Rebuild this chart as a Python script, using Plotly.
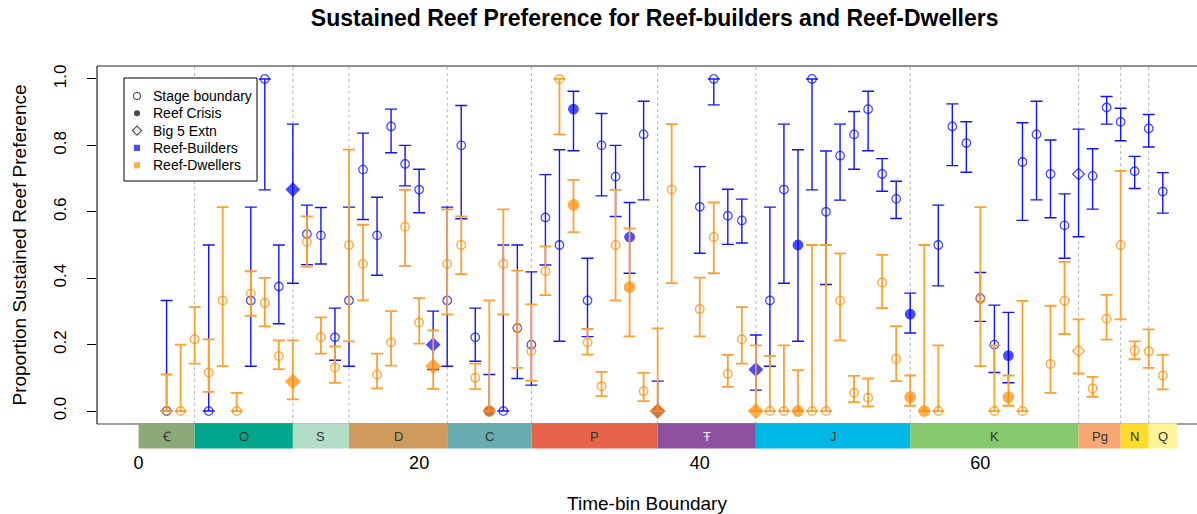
import plotly.graph_objects as go

# Time-bin boundaries with reef-builder estimates (proportion, lower CI, upper CI)
builder_bins = [2, 5, 8, 9, 10, 11, 12, 13, 14, 15, 16, 17, 18, 19, 20, 21, 22, 23, 24, 25,
                26, 27, 28, 29, 30, 31, 32, 33, 34, 35, 36, 37, 40, 41, 42, 43, 44, 45, 46, 47,
                48, 49, 50, 51, 52, 53, 54, 55, 57, 58, 59, 60, 61, 62, 63, 64, 65, 66, 67, 68,
                69, 70, 71, 72, 73]
builder_prop = [0.0, 0.0, 0.333, 1.0, 0.375, 0.667, 0.533, 0.529, 0.222, 0.333, 0.727, 0.529,
                0.857, 0.744, 0.667, 0.2, 0.333, 0.8, 0.222, 0.0, 0.0, 0.25, 0.2, 0.583, 0.5,
                0.909, 0.333, 0.8, 0.706, 0.524, 0.833, 0.0, 0.615, 1.0, 0.588, 0.574, 0.125,
                0.333, 0.667, 0.5, 1.0, 0.6, 0.769, 0.833, 0.909, 0.714, 0.639, 0.292, 0.5,
                0.857, 0.807, 0.34, 0.2, 0.167, 0.75, 0.833, 0.714, 0.559, 0.714, 0.708, 0.914,
                0.871, 0.722, 0.851, 0.661]
builder_lo = [0.0, 0.0, 0.135, 0.666, 0.263, 0.385, 0.441, 0.443, 0.153, 0.135, 0.577, 0.409,
              0.778, 0.678, 0.597, 0.125, 0.135, 0.579, 0.15, 0.0, 0.0, 0.098, 0.078, 0.44, 0.21,
              0.784, 0.224, 0.648, 0.586, 0.415, 0.636, 0.0, 0.475, 0.922, 0.502, 0.506, 0.063,
              0.135, 0.385, 0.21, 0.666, 0.381, 0.635, 0.728, 0.784, 0.662, 0.58, 0.235, 0.377,
              0.739, 0.719, 0.27, 0.116, 0.085, 0.574, 0.636, 0.582, 0.46, 0.525, 0.608, 0.864,
              0.814, 0.67, 0.795, 0.596]
builder_hi = [0.333, 0.5, 0.614, 1.0, 0.5, 0.864, 0.62, 0.613, 0.31, 0.614, 0.837, 0.644,
              0.909, 0.8, 0.728, 0.301, 0.614, 0.92, 0.31, 0.11, 0.5, 0.5, 0.419, 0.712, 0.787,
              0.963, 0.46, 0.896, 0.8, 0.628, 0.933, 0.09, 0.736, 1.0, 0.668, 0.638, 0.229,
              0.614, 0.864, 0.787, 1.0, 0.783, 0.864, 0.902, 0.963, 0.76, 0.692, 0.355, 0.62,
              0.925, 0.871, 0.417, 0.319, 0.297, 0.868, 0.933, 0.816, 0.654, 0.849, 0.79, 0.947,
              0.912, 0.767, 0.893, 0.718]

# Time-bin boundaries with reef-dweller estimates
dweller_bins = [2, 3, 4, 5, 6, 7, 8, 9, 10, 11, 12, 13, 14, 15, 16, 17, 18, 19, 20, 21, 22,
                23, 24, 25, 26, 27, 28, 29, 30, 31, 32, 33, 34, 35, 36, 37, 38, 40, 41, 42, 43,
                44, 45, 46, 47, 48, 49, 50, 51, 52, 53, 54, 55, 56, 57, 60, 61, 62, 63, 65, 66,
                67, 68, 69, 70, 71, 72, 73]
dweller_prop = [0.0, 0.0, 0.216, 0.116, 0.333, 0.0, 0.353, 0.325, 0.166, 0.089, 0.51, 0.223,
                0.131, 0.5, 0.443, 0.11, 0.207, 0.555, 0.267, 0.135, 0.443, 0.5, 0.1, 0.0,
                0.443, 0.249, 0.18, 0.421, 1.0, 0.621, 0.207, 0.075, 0.5, 0.373, 0.06, 0.0,
                0.667, 0.307, 0.524, 0.112, 0.216, 0.0, 0.0, 0.0, 0.0, 0.0, 0.0, 0.333, 0.055,
                0.04, 0.387, 0.157, 0.042, 0.0, 0.0, 0.337, 0.0, 0.042, 0.0, 0.142, 0.332,
                0.181, 0.068, 0.278, 0.5, 0.182, 0.18, 0.107]
dweller_lo = [0.0, 0.0, 0.143, 0.058, 0.135, 0.0, 0.287, 0.255, 0.126, 0.035, 0.435, 0.173,
              0.085, 0.21, 0.333, 0.068, 0.137, 0.437, 0.203, 0.067, 0.291, 0.412, 0.066, 0.0,
              0.291, 0.13, 0.091, 0.349, 0.833, 0.539, 0.17, 0.045, 0.333, 0.225, 0.03, 0.0,
              0.385, 0.225, 0.415, 0.073, 0.143, 0.0, 0.0, 0.0, 0.0, 0.0, 0.0, 0.213, 0.027,
              0.014, 0.31, 0.09, 0.016, 0.0, 0.0, 0.135, 0.0, 0.016, 0.0, 0.055, 0.232,
              0.113, 0.043, 0.215, 0.276, 0.156, 0.13, 0.065]
dweller_hi = [0.11, 0.2, 0.313, 0.216, 0.614, 0.055, 0.421, 0.401, 0.213, 0.213, 0.586, 0.282,
              0.195, 0.787, 0.561, 0.173, 0.301, 0.666, 0.34, 0.243, 0.607, 0.586, 0.143, 0.333,
              0.607, 0.423, 0.321, 0.496, 1.0, 0.696, 0.247, 0.118, 0.666, 0.55, 0.115, 0.249,
              0.864, 0.402, 0.628, 0.169, 0.313, 0.198, 0.166, 0.198, 0.123, 0.5, 0.5, 0.475,
              0.106, 0.098, 0.47, 0.256, 0.107, 0.5, 0.198, 0.614, 0.198, 0.107, 0.332, 0.317,
              0.449, 0.276, 0.103, 0.35, 0.723, 0.21, 0.246, 0.169]

# Boundaries flagged as reef crises and as Big Five mass extinctions
crisis_bins = [11, 21, 25, 31, 35, 37, 44, 47, 55, 56, 62]
big5_bins = [11, 21, 37, 44, 67]

# Geological periods along the time-bin axis
period_labels = ["Ꞓ", "O", "S", "D", "C", "P", "Ŧ", "J", "K", "Pg", "N", "Q"]
period_start = [0, 4, 11, 15, 22, 28, 37, 44, 55, 67, 70, 72]
period_end = [4, 11, 15, 22, 28, 37, 44, 55, 67, 70, 72, 74]
period_colors = ["#8CAA78", "#00A78C", "#B2DEC8", "#CF9B5C", "#66ACB0", "#E6654A",
                 "#8D51A0", "#00B8E5", "#85C86E", "#F8A772", "#FFDB2E", "#FFF598"]
period_text = ["#333333"] * 6 + ["#EDE3F2"] + ["#333333"] * 5

# Key entries
key_labels = ["Stage boundary", "Reef Crisis", "Big 5 Extn", "Reef-Builders", "Reef-Dwellers"]
key_symbols = ["circle-open", "circle", "diamond-open", "square", "square"]
key_colors = ["black", "black", "black", "blue", "darkorange"]
key_sizes = [7, 5, 7, 5, 5]

BLUE = "rgb(0,0,255)"
BLUE_BAR = "rgb(20,20,255)"
ORANGE = "rgb(255,140,0)"
ORANGE_BAR = "rgb(255,160,50)"
FONT = "Liberation Sans, Arial, Helvetica, sans-serif"

# Pixel frame of the plotting region, used to place the key in paper units
PLOT_L, PLOT_T, PLOT_W, PLOT_H = 97, 66, 1100, 358


def px_to_paper(px, py):
    return (px - PLOT_L) / PLOT_W, (PLOT_T + PLOT_H - py) / PLOT_H


def marker_style(bins, grow):
    symbols, sizes = [], []
    for b in bins:
        crisis = b in crisis_bins
        big5 = b in big5_bins
        if big5 and crisis:
            symbols.append("diamond"); sizes.append(10 + grow)
        elif big5:
            symbols.append("diamond-open"); sizes.append(9)
        elif crisis:
            symbols.append("circle"); sizes.append(9.5 + grow)
        else:
            symbols.append("circle-open"); sizes.append(8.5)
    return symbols, sizes


def add_series(fig, bins, prop, lo, hi, color, bar_color, line_w, bar_w, grow):
    symbols, sizes = marker_style(bins, grow)
    fig.add_trace(go.Scatter(
        x=bins, y=prop, mode="markers", showlegend=False, hoverinfo="x+y",
        marker=dict(symbol=symbols, size=sizes, color=color,
                    line=dict(width=line_w, color=color)),
        error_y=dict(type="data", symmetric=False,
                     array=[h - p for h, p in zip(hi, prop)],
                     arrayminus=[p - l for p, l in zip(prop, lo)],
                     color=bar_color, thickness=bar_w, width=6),
    ))


fig = go.Figure()
add_series(fig, builder_bins, builder_prop, builder_lo, builder_hi,
           BLUE, BLUE_BAR, 1.3, 1.4, 0)
add_series(fig, dweller_bins, dweller_prop, dweller_lo, dweller_hi,
           ORANGE, ORANGE_BAR, 1.5, 1.8, 0.8)

shapes = []
annotations = []

# Period boundaries as dotted guides
for b in period_start[1:]:
    shapes.append(dict(type="line", xref="x", yref="paper", x0=b, x1=b, y0=0, y1=1,
                       line=dict(color="#b5b5b5", width=1, dash="dot"), layer="below"))

# Key box (drawn over the guides), with symbols on an overlay axis spanning the plot
box_x0, box_y0 = px_to_paper(124, 78)
box_x1, box_y1 = px_to_paper(257, 181)
shapes.append(dict(type="rect", xref="paper", yref="paper", x0=box_x0, x1=box_x1,
                   y0=box_y1, y1=box_y0, fillcolor="white",
                   line=dict(color="black", width=1), layer="below"))
key_x, _ = px_to_paper(137, 0)
text_x, _ = px_to_paper(151, 0)
key_y = [px_to_paper(0, 96 + 17.3 * i)[1] for i in range(len(key_labels))]
fig.add_trace(go.Scatter(
    x=[key_x] * len(key_labels), y=key_y, xaxis="x2", yaxis="y2", mode="markers",
    showlegend=False, hoverinfo="skip",
    marker=dict(symbol=key_symbols, color=key_colors, size=key_sizes,
                line=dict(width=1.1, color=key_colors)),
))
for lab, yy in zip(key_labels, key_y):
    annotations.append(dict(x=text_x, y=yy, xref="paper", yref="paper", text=lab,
                            showarrow=False, xanchor="left", yanchor="middle",
                            font=dict(size=14, family=FONT, color="black")))

# Plot frame (top, bottom, left)
shapes.append(dict(type="line", xref="paper", yref="paper", x0=0, x1=1, y0=1, y1=1,
                   line=dict(color="#222222", width=1.2), layer="above"))
shapes.append(dict(type="line", xref="paper", yref="paper", x0=0, x1=1, y0=0, y1=0,
                   line=dict(color="#444444", width=1.2), layer="above"))
shapes.append(dict(type="line", xref="paper", yref="paper", x0=0, x1=0, y0=0, y1=1,
                   line=dict(color="#222222", width=1.2), layer="above"))
# Period strip under the plot
for lab, s, e, c, tc in zip(period_labels, period_start, period_end, period_colors, period_text):
    shapes.append(dict(type="rect", xref="x", yref="paper", x0=s, x1=e, y0=0.002, y1=-0.0685,
                       fillcolor=c, line=dict(width=0), layer="above"))
    annotations.append(dict(x=(s + e) / 2, y=-0.034, xref="x", yref="paper", text=lab,
                            showarrow=False, font=dict(size=13, color=tc, family=FONT),
                            xanchor="center", yanchor="middle"))

fig.update_layout(
    width=1197, height=514,
    margin=dict(l=PLOT_L, r=0, t=PLOT_T, b=514 - PLOT_T - PLOT_H),
    paper_bgcolor="white", plot_bgcolor="white",
    font=dict(family=FONT, color="black", size=16),
    title=dict(text="<b>Sustained Reef Preference for Reef-builders and Reef-Dwellers</b>",
               x=0.507, xref="paper", xanchor="center", y=0.965, yanchor="middle",
               font=dict(size=23, family=FONT, color="black")),
    showlegend=False,
    hovermode="closest",
    shapes=shapes,
    annotations=annotations,
    xaxis2=dict(overlaying="x", range=[0, 1], visible=False, fixedrange=True),
    yaxis2=dict(overlaying="y", range=[0, 1], visible=False, fixedrange=True),
)
fig.layout.xaxis.update(range=[-2.96, 75.44], tickvals=[0, 20, 40, 60], ticks="",
                        showgrid=False, zeroline=False, showline=False,
                        ticklabelstandoff=26, tickfont=dict(size=18),
                        title=dict(text="Time-bin Boundary", standoff=24, font=dict(size=19)))
fig.layout.yaxis.update(range=[-0.039, 1.039], tickvals=[0, 0.2, 0.4, 0.6, 0.8, 1.0],
                        ticktext=["0.0", "0.2", "0.4", "0.6", "0.8", "1.0"], tickangle=-90,
                        ticks="outside", ticklen=9, tickcolor="black", tickwidth=1,
                        showgrid=False, zeroline=False, showline=False,
                        ticklabelstandoff=14, tickfont=dict(size=17),
                        title=dict(text="Proportion Sustained Reef Preference", standoff=19,
                                   font=dict(size=19)))

fig.write_html("out.html")
